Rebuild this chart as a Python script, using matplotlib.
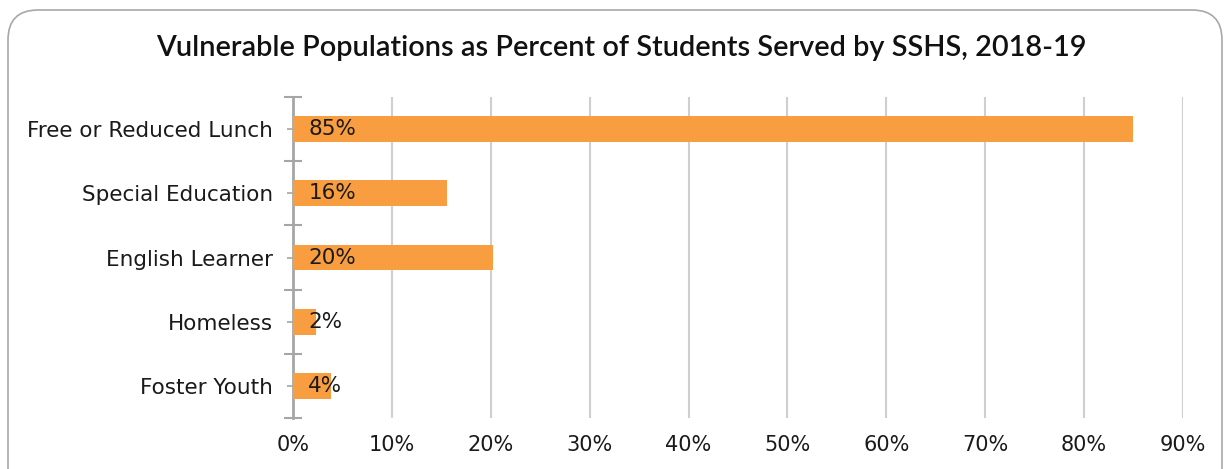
import matplotlib
matplotlib.use('Agg')
import matplotlib.pyplot as plt
from matplotlib.patches import FancyBboxPatch
from matplotlib.ticker import FixedLocator, PercentFormatter

plt.rcParams['font.family'] = ['DejaVu Sans']

categories = ['Free or Reduced Lunch', 'Special Education', 'English Learner',
              'Homeless', 'Foster Youth']
percents = [84.9, 15.6, 20.2, 2.3, 3.8]
x_ticks = [0, 10, 20, 30, 40, 50, 60, 70, 80, 90]

bar_color = '#F99D41'
axis_gray = '#A6A6A6'
grid_gray = '#CFCFCF'
text_color = '#1A1A1A'

W, H = 1225, 469
fig = plt.figure(figsize=(W / 100, H / 100), dpi=100)

# rounded frame around the whole chart, bottom edge runs off the canvas
frame = FancyBboxPatch((8 / W, -0.1), 1214 / W, 1.1 - 10 / H,
                       boxstyle='round,pad=0,rounding_size=%f' % (30 / W),
                       mutation_aspect=W / H,
                       transform=fig.transFigure, facecolor='none',
                       edgecolor='#A8A8A8', linewidth=1.2, zorder=-1)
fig.patches.append(frame)

ax = fig.add_axes([293 / W, 51 / H, 890 / W, 321 / H])
ax.set_facecolor('none')

ypos = list(range(len(categories)))
ax.barh(ypos, percents, height=0.4, color=bar_color, zorder=3)

for y, v in zip(ypos, percents):
    ax.annotate('{:.0f}%'.format(v), xy=(0, y), xytext=(11, 0),
                textcoords='offset points', va='center', ha='left',
                fontsize=15.5, color=text_color, zorder=4)

ax.set_xlim(0, 90)
ax.set_ylim(len(categories) - 0.5, -0.5)

ax.xaxis.set_major_locator(FixedLocator(x_ticks))
ax.xaxis.set_major_formatter(PercentFormatter(decimals=0))
ax.tick_params(axis='x', length=0, pad=12, labelsize=15, labelcolor=text_color)
ax.grid(axis='x', color=grid_gray, linewidth=1.5, zorder=0)

# category labels on centre ticks, separators at band edges
ax.set_yticks(ypos)
ax.set_yticklabels(categories)
ax.set_yticks([i - 0.5 for i in range(len(categories) + 1)], minor=True)
ax.tick_params(axis='y', which='major', direction='inout', length=9,
               width=1.2, color=axis_gray, pad=10, labelsize=15.5,
               labelcolor=text_color)
ax.tick_params(axis='y', which='minor', direction='inout', length=13,
               width=1.5, color=axis_gray)

for side in ['top', 'right', 'bottom']:
    ax.spines[side].set_visible(False)
ax.spines['left'].set_color(axis_gray)
ax.spines['left'].set_linewidth(2)
ax.spines['left'].set_zorder(2)

fig.text(621 / W, 1 - 48 / H, 'Vulnerable Populations as Percent of Students Served by SSHS, 2018-19',
         ha='center', va='center', fontsize=20.8, fontweight='semibold',
         family=['Lato', 'DejaVu Sans'], color='#111111')

fig.savefig('out.png', dpi=100)
